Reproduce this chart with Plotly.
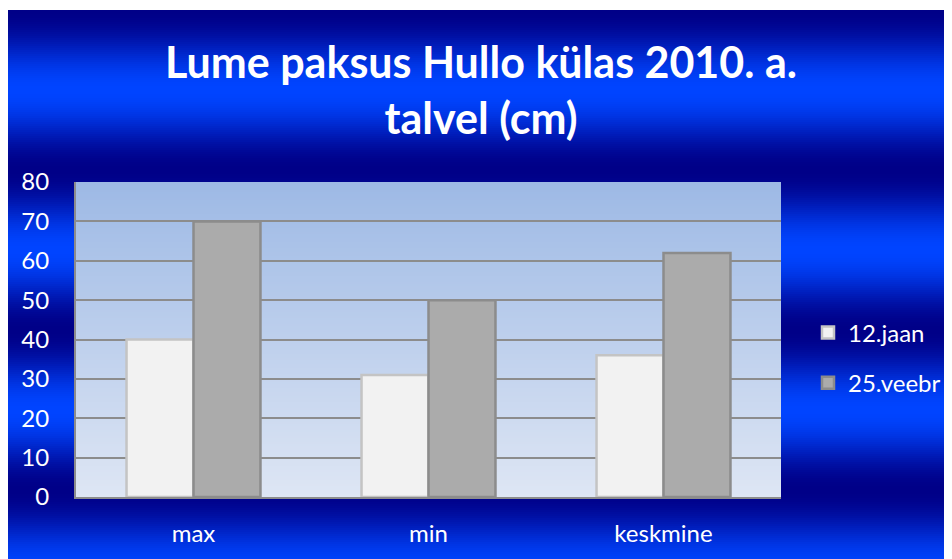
import math
import plotly.graph_objects as go

categories = ["max", "min", "keskmine"]
series_names = ["12.jaan", "25.veebr"]
jaan_values = [40, 31, 36]
veebr_values = [70, 50, 62]
y_ticks = [0, 10, 20, 30, 40, 50, 60, 70, 80]

# figure coordinates (page body adds an 8px margin)
W, H = 944, 551
L, R, T, B = 68, 773, 174, 489  # plot area in pixels

def px_to_paper_x(px):
    return (px - L) / (R - L)

def px_to_paper_y(py):
    return (B - py) / (B - T)

def lerp(c1, c2, t):
    return "rgb(%d,%d,%d)" % tuple(round(a + (b - a) * t) for a, b in zip(c1, c2))

shapes = []
# outer background: periodic navy / bright blue bands
dark = (0, 0, 136)
bright = (0, 68, 255)
step = 2
y_start = 2
py = y_start
while py < H:
    t = (1 - math.cos(2 * math.pi * (py + step / 2 - y_start) / 160)) / 2
    shapes.append(dict(type="rect", xref="paper", yref="paper",
                       x0=px_to_paper_x(-1), x1=px_to_paper_x(941),
                       y0=px_to_paper_y(min(py + step + 0.6, H)), y1=px_to_paper_y(py),
                       fillcolor=lerp(dark, bright, t), line_width=0, layer="below"))
    py += step

# plot area: light blue gradient
top_c = (157, 185, 229)
bot_c = (222, 230, 244)
py = T
while py < B:
    t = (py + step / 2 - T) / (B - T)
    shapes.append(dict(type="rect", xref="paper", yref="paper",
                       x0=0, x1=1,
                       y0=px_to_paper_y(min(py + step + 0.6, B)), y1=px_to_paper_y(py),
                       fillcolor=lerp(top_c, bot_c, t), line_width=0, layer="below"))
    py += step

fig = go.Figure()
fig.add_trace(go.Bar(
    x=categories, y=jaan_values, name=series_names[0], legendgroup="a",
    marker=dict(color="#F2F2F2", line=dict(color="#C4C4C4", width=2.5)),
))
fig.add_trace(go.Bar(
    x=categories, y=veebr_values, name=series_names[1], legendgroup="b",
    marker=dict(color="#ABABAB", line=dict(color="#8C8C8C", width=2.5)),
))

fig.update_layout(
    width=W, height=H,
    margin=dict(l=L, r=W - R, t=T, b=H - B, pad=0, autoexpand=False),
    paper_bgcolor="white",
    plot_bgcolor="rgba(0,0,0,0)",
    shapes=shapes,
    barmode="group",
    bargap=0.43,
    bargroupgap=0,
    font=dict(family="Lato, Carlito, sans-serif", color="white", size=24),
    title=dict(
        text="<b>Lume paksus Hullo külas 2010. a.<br>talvel (cm)</b>",
        x=473 / W, xanchor="center", xref="container",
        y=1 - 70 / H, yanchor="middle", yref="container",
        font=dict(family="Lato, Carlito, sans-serif", size=43, color="white"),
    ),
    legend=dict(
        x=px_to_paper_x(800), xanchor="left",
        y=px_to_paper_y(350), yanchor="middle",
        bgcolor="rgba(0,0,0,0)",
        font=dict(size=24, color="white"),
        traceorder="grouped", tracegroupgap=16,
        itemwidth=30,
    ),
    showlegend=True,
)
fig.update_yaxes(
    range=[0, 80], tickvals=y_ticks,
    showgrid=True, gridcolor="#8C8C8C", gridwidth=2,
    showline=True, linecolor="#8C8C8C", linewidth=2,
    ticks="", ticklabelstandoff=20,
    zeroline=False, automargin=False,
    tickfont=dict(size=24, color="white"),
)
fig.update_xaxes(
    showline=True, linecolor="#8C8C8C", linewidth=2,
    ticks="", ticklabelstandoff=14, automargin=False,
    tickfont=dict(size=24, color="white"),
)

fig.write_html("out.html")
